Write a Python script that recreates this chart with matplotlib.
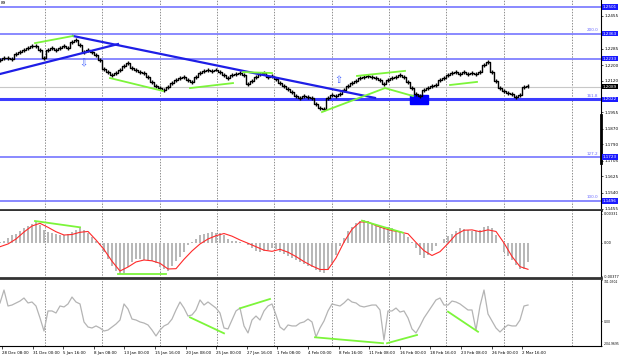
import numpy as np
import matplotlib.pyplot as plt
from matplotlib.patches import Rectangle
from matplotlib.transforms import blended_transform_factory

# price closes, one value every two H4 bars
close = [1.2227, 1.2237, 1.2237, 1.2232, 1.2258, 1.2268, 1.2278, 1.2289, 1.2299, 1.2299,
         1.2278, 1.2237, 1.2278, 1.2289, 1.2278, 1.2289, 1.2299, 1.2289, 1.2320, 1.2330,
         1.2304, 1.2268, 1.2278, 1.2268, 1.2252, 1.2227, 1.2180, 1.2164, 1.2149, 1.2159,
         1.2175, 1.2195, 1.2211, 1.2185, 1.2175, 1.2164, 1.2159, 1.2138, 1.2113, 1.2092,
         1.2081, 1.2071, 1.2087, 1.2107, 1.2123, 1.2133, 1.2138, 1.2123, 1.2113, 1.2138,
         1.2159, 1.2170, 1.2175, 1.2168, 1.2177, 1.2164, 1.2149, 1.2133, 1.2149, 1.2154,
         1.2159, 1.2149, 1.2102, 1.2118, 1.2138, 1.2154, 1.2159, 1.2138, 1.2142, 1.2128,
         1.2107, 1.2092, 1.2076, 1.2061, 1.2040, 1.2030, 1.2038, 1.2035, 1.2030, 1.1999,
         1.1978, 1.1973, 1.2030, 1.2045, 1.2040, 1.2050, 1.2071, 1.2092, 1.2107, 1.2118,
         1.2133, 1.2138, 1.2144, 1.2140, 1.2133, 1.2123, 1.2102, 1.2123, 1.2133, 1.2138,
         1.2149, 1.2138, 1.2113, 1.2081, 1.2050, 1.2040, 1.2071, 1.2081, 1.2092, 1.2097,
         1.2123, 1.2133, 1.2149, 1.2159, 1.2166, 1.2154, 1.2164, 1.2152, 1.2160, 1.2156,
         1.2164, 1.2201, 1.2216, 1.2164, 1.2118, 1.2081, 1.2066, 1.2055, 1.2050, 1.2035,
         1.2045, 1.2087, 1.2092]

# MACD histogram and signal (x 1e-3), signal every 4 bars
macd_hist = np.array([
    0.06, 0.23, 0.56, 0.85, 1.07, 1.35, 1.69, 1.92, 2.14, 2.37,
    2.03, 1.47, 1.27, 1.13, 0.96, 0.90, 0.90, 0.96, 1.24, 1.52,
    1.77, 1.52, 1.13, 0.68, 0.23, -0.23, -0.96, -1.86, -2.65, -3.16,
    -3.50, -3.33, -2.71, -2.09, -1.86, -1.84, -1.88, -1.97, -2.06, -2.31,
    -2.67, -2.99, -3.21, -2.59, -2.03, -1.55, -0.96, -0.26, 0.06, 0.45,
    0.90, 1.07, 1.17, 1.21, 1.16, 1.09, 0.85, 0.45, 0.23, 0.28,
    0.15, 0.03, -0.17, -0.51, -0.85, -0.98, -0.87, -0.76, -0.62, -0.73,
    -0.98, -1.21, -1.43, -1.66, -1.88, -2.11, -2.33, -2.57, -2.76, -3.01,
    -3.27, -3.44, -3.10, -2.26, -1.30, -0.39, 0.51, 1.30, 1.86, 2.31,
    2.50, 2.59, 2.48, 2.31, 2.06, 1.84, 1.84, 1.80, 1.69, 1.50,
    1.27, 1.05, 0.68, 0.11, -0.62, -1.30, -1.69, -1.41, -0.85, -0.34,
    -0.03, 0.47, 0.77, 1.06, 1.35, 1.66, 1.55, 1.43, 1.32, 1.35,
    1.47, 1.80, 1.97, 1.64, 0.85, -0.03, -0.96, -1.47, -1.92, -2.43,
    -2.99, -2.88, -2.14]) / 1000
macd_signal = np.array([
    -0.42, -0.11, 0.45, 1.24, 1.92, 2.22, 1.77, 1.27, 0.90, 0.96,
    1.21, 1.30, 0.34, -0.73, -2.06, -3.16, -2.71, -2.14, -1.92, -2.01,
    -2.29, -2.93, -2.90, -1.84, -0.90, -0.11, 0.45, 0.82, 1.07, 0.77,
    0.34, -0.03, -0.42, -0.81, -0.94, -0.71, -1.04, -1.53, -2.10, -2.59,
    -2.99, -2.99, -1.69, 0.11, 1.55, 2.37, 2.37, 1.96, 1.65, 1.40,
    1.24, 1.04, 0.06, -0.87, -1.41, -0.98, -0.06, 0.96, 1.44, 1.48,
    1.27, 1.48, 1.30, 0.00, -1.52, -2.67, -2.97]) / 1000

cci = [151, 258, 126, 134, 151, 167, 192, 151, 159, 126,
       27, -81, 85, 85, 68, 126, 118, 143, 200, 159,
       143, -6, -48, -56, -39, -56, -81, -73, -48, -23,
       10, 143, 101, 18, 10, -6, -15, -31, -73, -122,
       -73, -39, -23, 18, 93, 159, 109, 43, 52, 93,
       176, 134, 159, 134, 109, 68, -56, -64, 10, 85,
       109, -39, -97, 10, 43, 10, 85, 126, 143, 52,
       -48, -73, -31, -39, -39, -15, -6, 18, -6, -130,
       -56, 2, 85, 143, 134, 126, 151, 184, 159, 151,
       126, 118, 126, 134, 134, 93, -155, 85, 85, 109,
       76, 85, 27, -64, -97, -39, 27, 76, 126, 176,
       192, 134, 134, 167, 159, 143, 118, 93, 93, -73,
       126, 258, 60, 2, -56, -89, -56, -31, -39, -39,
       10, 126, 134]

date_labels = ["28 Dec 08:00", "31 Dec 00:00", "5 Jan 16:00", "8 Jan 08:00",
               "13 Jan 00:00", "15 Jan 16:00", "20 Jan 08:00", "25 Jan 00:00",
               "27 Jan 16:00", "1 Feb 08:00", "4 Feb 00:00", "8 Feb 16:00",
               "11 Feb 08:00", "16 Feb 00:00", "18 Feb 16:00", "23 Feb 08:00",
               "26 Feb 00:00", "2 Mar 16:00"]

price_ticks = [1.2455, 1.2370, 1.2285, 1.2200, 1.2120, 1.1955,
               1.1870, 1.1790, 1.1705, 1.1625, 1.1540, 1.1455]
levels = [1.2501, 1.2363, 1.2233, 1.2022, 1.1723, 1.1496]
fib_names = {1.2363: "200.0", 1.2022: "161.8", 1.1723: "127.2", 1.1496: "100.0"}
last_price = 1.2089

# drawn objects (bar index, value)
blue_lines = [((0, 1.2154), (29.5, 1.2309)), ((18.25, 1.2351), (93.75, 1.2030))]
green_price = [((8.75, 1.2314), (18.25, 1.2351)), ((27.5, 1.2133), (40.75, 1.2066)),
               ((47.5, 1.2081), (58.25, 1.2107)), ((60.75, 1.2164), (68, 1.2159)),
               ((80.5, 1.1957), (96.25, 1.2081)), ((89.25, 1.2144), (101.25, 1.2170)),
               ((96.25, 1.2081), (103.25, 1.2040)), ((112.5, 1.2097), (119.25, 1.2113))]
green_macd = [((8.75, 2.48e-3), (20, 1.77e-3)), ((29.5, -3.53e-3), (41.5, -3.53e-3)),
              ((90.5, 2.52e-3), (100.75, 1.16e-3))]
green_cci = [((47.5, 32), (56, -100)), ((60, 107), (67.5, 184)),
             ((78.75, -133), (95.75, -182)), ((96.75, -182), (104.25, -114)),
             ((112, 79), (119.5, -87))]
sell_arrow = (20.75, 1.2211)
buy_arrow = (84.5, 1.2123)
zone = (102.5, 1.1999, 4.5, 0.0046)

grid_x = [11.25, 25.5, 40, 54.25, 68.5, 83, 97.25, 111.5, 126, 143]

W, H = 620, 357
fig = plt.figure(figsize=(W / 100, H / 100), dpi=100)
fs = 3.0


def panel(top, bottom):
    ax = fig.add_axes([0, 1 - bottom / H, 601 / W, (bottom - top) / H])
    ax.set_xlim(0, 150.25)
    for s in ['left', 'top']:
        ax.spines[s].set_visible(False)
    ax.spines['right'].set_linewidth(0.8)
    ax.yaxis.tick_right()
    ax.tick_params(axis='y', length=1.5, width=0.5, labelsize=fs, pad=1)
    ax.tick_params(axis='x', length=0, labelbottom=False)
    for g in grid_x:
        ax.axvline(g, color='#606060', lw=0.5, ls=(0, (2, 2)), zorder=0)
    return ax


ax_p = panel(0, 210)
ax_m = panel(211, 278)
ax_c = panel(280, 346)
ax_p.spines['bottom'].set_linewidth(2)
ax_p.spines['bottom'].set_color('#333333')
ax_m.spines['bottom'].set_linewidth(2)
ax_m.spines['bottom'].set_color('#333333')
ax_c.spines['bottom'].set_linewidth(0.8)

# price panel
idx = np.arange(len(close))
ax_p.set_ylim(1.14495, 1.25373)
ax_p.set_yticks(price_ticks)
ax_p.set_yticklabels([f"{v:.4f}" for v in price_ticks])
tr = blended_transform_factory(ax_p.transAxes, ax_p.transData)

ax_p.axhline(last_price, color='#c8c8c8', lw=0.8, zorder=1)
for lv in levels:
    if lv == 1.2022:
        ax_p.axhline(lv, color='#3c3cff', lw=2.2, zorder=2)
    else:
        ax_p.axhline(lv, color='#8080ff', lw=1.3, zorder=2)
    ax_p.text(1.003, lv, f"{lv:.4f}", transform=tr, fontsize=fs, color='white',
              va='center', ha='left', clip_on=False, zorder=10,
              bbox=dict(fc='#1a1aff', ec='none', pad=0.5))
    if lv in fib_names:
        ax_p.text(0.995, lv + 0.0008, fib_names[lv], transform=tr, fontsize=fs,
                  color='#6a6aff', ha='right', va='bottom')
ax_p.text(1.003, last_price, f"{last_price:.4f}", transform=tr, fontsize=fs,
          color='white', va='center', ha='left', clip_on=False, zorder=10,
          bbox=dict(fc='black', ec='none', pad=0.5))
ax_p.plot([1, 1], [1.1942, 1.1693], transform=tr, color='k', lw=2, clip_on=False)

ax_p.add_patch(Rectangle(zone[:2], zone[2], zone[3], color='#0000ff', zorder=3))
ax_p.plot(idx, close, drawstyle='steps-mid', color='k', lw=1.0, zorder=4)
ax_p.vlines(idx, np.array(close) - 0.0010, np.array(close) + 0.0010,
            color='k', lw=1.0, zorder=4)

for (x0, y0), (x1, y1) in blue_lines:
    ax_p.plot([x0, x1], [y0, y1], color='#1e1ee6', lw=1.6, zorder=5)
for (x0, y0), (x1, y1) in green_price:
    ax_p.plot([x0, x1], [y0, y1], color='#7cf53a', lw=1.3, zorder=5)
ax_p.text(*sell_arrow, '\u21e9', color='#4060ff', fontsize=7, ha='center', va='center', zorder=6)
ax_p.text(*buy_arrow, '\u21e7', color='#4060ff', fontsize=7, ha='center', va='center', zorder=6)
ax_p.text(0.002, 0.997, '89', transform=ax_p.transAxes, fontsize=fs, va='top', ha='left')

# MACD panel
ax_m.set_ylim(-3.95e-3, 3.61e-3)
ax_m.bar(idx, macd_hist, width=0.55, color='#b8b8b8', zorder=2)
ax_m.plot(idx[::2], macd_signal, color='#ff2a2a', lw=0.8, zorder=3)
for (x0, y0), (x1, y1) in green_macd:
    ax_m.plot([x0, x1], [y0, y1], color='#7cf53a', lw=1.3, zorder=4)
ax_m.set_yticks([-0.00377, 0, 0.00331])
ax_m.set_yticklabels(['-0.00377', '0.00', '0.00331'])
ax_m.tick_params(axis='y', labelsize=2.5, length=1)

# CCI panel
ax_c.set_ylim(-204.9695, 341.0302)
ax_c.plot(idx, cci, color='#b4b4b4', lw=0.9, zorder=2)
for (x0, y0), (x1, y1) in green_cci:
    ax_c.plot([x0, x1], [y0, y1], color='#7cf53a', lw=1.3, zorder=3)
ax_c.set_yticks([-204.9695, 0, 341.0302])
labs = ax_c.set_yticklabels(['-204.9695', '0.00', '341.0302'])
ax_c.tick_params(axis='y', labelsize=2.2, length=1)
labs[0].set_va('bottom')
labs[2].set_va('top')

ax_c.set_xticks(0.5 + 7.65 * np.arange(len(date_labels)))
ax_c.set_xticklabels(date_labels, fontsize=2.9, ha='left')
ax_c.tick_params(axis='x', length=2, width=0.5, pad=1.5, labelbottom=True)

fig.savefig('out.png', dpi=100)
